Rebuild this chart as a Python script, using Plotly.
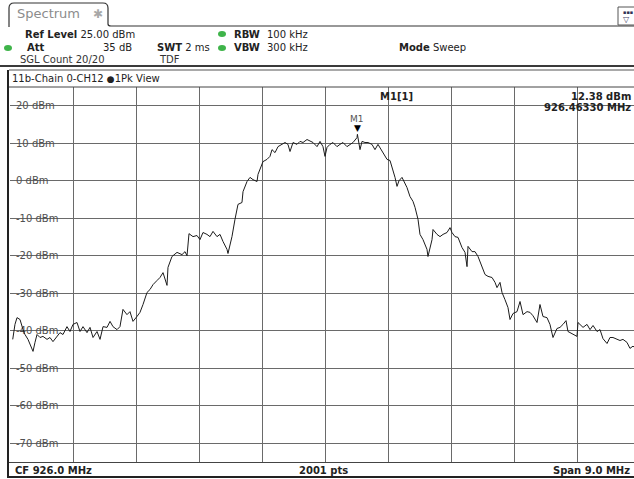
import plotly.graph_objects as go

# ---------------- data ----------------
freq_mhz = [
    921.539, 921.571, 921.600, 921.643, 921.686, 921.714, 921.757, 921.786, 921.829, 921.857,
    921.886, 921.929, 921.971, 922.029, 922.071, 922.114, 922.171, 922.214, 922.257, 922.314,
    922.357, 922.400, 922.457, 922.500, 922.543, 922.600, 922.643, 922.686, 922.743, 922.786,
    922.829, 922.886, 922.929, 922.971, 923.029, 923.071, 923.114, 923.171, 923.214, 923.257,
    923.314, 923.357, 923.400, 923.457, 923.500, 923.543, 923.600, 923.643, 923.686, 923.743,
    923.757, 923.814, 923.886, 923.957, 924.000, 924.029, 924.057, 924.114, 924.171, 924.214,
    924.257, 924.314, 924.357, 924.400, 924.457, 924.500, 924.543, 924.600, 924.614, 924.671,
    924.714, 924.757, 924.814, 924.829, 924.886, 924.929, 924.971, 925.029, 925.043, 925.100,
    925.114, 925.171, 925.214, 925.243, 925.286, 925.329, 925.386, 925.429, 925.471, 925.500,
    925.543, 925.600, 925.643, 925.686, 925.743, 925.786, 925.829, 925.886, 925.929, 925.971,
    926.000, 926.029, 926.071, 926.114, 926.171, 926.214, 926.257, 926.314, 926.357, 926.400,
    926.457, 926.463, 926.500, 926.529, 926.571, 926.614, 926.671, 926.714, 926.757, 926.814,
    926.857, 926.886, 926.929, 926.957, 927.000, 927.029, 927.057, 927.100, 927.143, 927.171,
    927.214, 927.257, 927.286, 927.329, 927.357, 927.400, 927.457, 927.471, 927.529, 927.543,
    927.600, 927.643, 927.686, 927.743, 927.786, 927.814, 927.857, 927.900, 927.957, 928.000,
    928.029, 928.043, 928.100, 928.143, 928.186, 928.243, 928.286, 928.329, 928.386, 928.429,
    928.457, 928.500, 928.529, 928.571, 928.614, 928.643, 928.686, 928.743, 928.786, 928.829,
    928.886, 928.929, 928.971, 929.029, 929.071, 929.114, 929.171, 929.214, 929.257, 929.314,
    929.357, 929.400, 929.443, 929.471, 929.543, 929.600, 929.614, 929.686, 929.743, 929.786,
    929.829, 929.886, 929.929, 929.971, 930.029, 930.071, 930.114, 930.171, 930.214, 930.257,
    930.314, 930.357, 930.400, 930.457,
]
level_dbm = [
    -42.3, -38.3, -36.5, -37.0, -39.7, -41.0, -42.3, -43.7, -45.5, -43.1,
    -41.0, -41.8, -41.5, -42.3, -41.8, -42.9, -41.5, -40.5, -41.0, -38.9,
    -40.2, -38.3, -37.8, -40.2, -38.9, -40.5, -39.1, -41.8, -40.2, -42.3,
    -38.9, -39.1, -37.5, -38.9, -39.7, -38.9, -34.3, -35.7, -34.9, -37.5,
    -36.2, -35.1, -33.0, -29.8, -29.0, -27.7, -26.6, -25.8, -24.5, -27.9,
    -23.1, -20.2, -19.1, -19.7, -18.9, -20.0, -14.1, -14.9, -14.6, -15.7,
    -13.8, -14.3, -14.9, -13.5, -14.9, -14.3, -16.2, -18.3, -19.4, -14.9,
    -10.3, -6.3, -5.8, -2.9, -0.2, 0.9, 0.3, -0.2, 1.7, 4.3,
    5.1, 5.7, 6.5, 8.3, 7.5, 9.1, 9.7, 10.2, 9.7, 7.8,
    10.2, 9.7, 10.5, 10.2, 11.0, 10.5, 10.2, 9.1, 10.5, 9.1,
    6.5, 8.9, 9.7, 10.2, 9.1, 9.7, 10.2, 9.1, 9.7, 10.2,
    11.5, 12.38, 8.3, 10.5, 10.2, 10.2, 9.7, 8.3, 9.7, 7.8,
    6.5, 5.7, 5.4, 3.8, 0.9, -1.5, 0.0, 0.9, -0.5, -1.8,
    -4.2, -5.5, -7.1, -10.3, -14.3, -15.7, -18.3, -20.2, -15.7, -13.0,
    -14.3, -14.9, -14.3, -13.8, -12.5, -13.8, -14.9, -15.1, -17.8, -19.1,
    -22.9, -17.5, -18.9, -18.9, -20.2, -22.9, -25.0, -25.5, -25.8, -27.1,
    -28.5, -27.1, -29.8, -31.7, -33.8, -37.0, -35.4, -34.9, -32.2, -35.7,
    -34.9, -35.1, -36.0, -37.8, -33.0, -36.2, -36.5, -38.3, -41.8, -39.4,
    -39.1, -38.3, -37.3, -40.2, -41.0, -41.5, -37.8, -39.1, -38.3, -39.7,
    -38.6, -40.2, -39.7, -42.1, -43.4, -41.8, -41.8, -42.3, -42.6, -42.3,
    -43.1, -44.7, -44.1, -45.0,
]
y_tick_values = [20, 10, 0, -10, -20, -30, -40, -50, -60, -70]
y_tick_labels = [f"{v} dBm" for v in y_tick_values]

center_mhz = 926.0
span_mhz = 9.0
ref_level_dbm = 25.0
range_db = 100.0
marker_freq_mhz = 926.4633
marker_level_dbm = 12.38

# ---------------- geometry ----------------
W, H = 634, 479
ML, MR, MT, MB = 10, 0, 87, 17
PW = W - ML - MR
PH = H - MT - MB
x_start = center_mhz - span_mhz / 2
div_mhz = span_mhz / 10
x_end = x_start + div_mhz * (PW / 63.0)   # screenshot is cut at the right edge

FONT = "DejaVu Sans"


def px(x):
    return (x - ML) / PW


def py(y):
    return (H - MB - y) / PH


fig = go.Figure()
fig.add_trace(go.Scatter(
    x=freq_mhz, y=level_dbm, mode="lines",
    line=dict(color="#1c1c1c", width=1),
    hoverinfo="skip", showlegend=False,
))

ann = []


def txt(x, y, s, size=10, color="#222", anchor="left"):
    ann.append(dict(xref="paper", yref="paper", x=px(x), y=py(y), text=s,
                    showarrow=False, xanchor=anchor, yanchor="middle",
                    font=dict(family=FONT, size=size, color=color)))


shapes = []


def line(x0, y0, x1, y1, color="#444", width=1):
    shapes.append(dict(type="line", xref="paper", yref="paper",
                       x0=px(x0), y0=py(y0), x1=px(x1), y1=py(y1),
                       line=dict(color=color, width=width), layer="above"))


def dot(cx, cy, rx=4, ry=3, color="#3fb44a"):
    shapes.append(dict(type="circle", xref="paper", yref="paper",
                       x0=px(cx - rx), x1=px(cx + rx), y0=py(cy + ry), y1=py(cy - ry),
                       fillcolor=color, line=dict(width=0), layer="above"))


# tab "Spectrum"
pts = [("M", 9, 27), ("L", 9, 8), ("Q", 9, 3, 14, 3), ("L", 103, 3),
       ("Q", 108, 3, 108, 8), ("L", 108, 24), ("Q", 108, 26, 111, 26), ("L", 640, 26)]
path = ""
for p in pts:
    if p[0] == "Q":
        path += f"Q{px(p[1]):.5f},{py(p[2]):.5f} {px(p[3]):.5f},{py(p[4]):.5f} "
    else:
        path += f"{p[0]}{px(p[1]):.5f},{py(p[2]):.5f} "
shapes.append(dict(type="path", xref="paper", yref="paper", path=path,
                   line=dict(color="#333", width=1.2), layer="above"))
txt(15, 14, "Spectrum", size=13, color="#8c8c8c")
txt(91, 14, "✱", size=12, color="#a8a8a8")

# icon at top right
shapes.append(dict(type="rect", xref="paper", yref="paper",
                   x0=px(618), x1=px(640), y0=py(25), y1=py(7),
                   line=dict(color="#555", width=1), fillcolor="white", layer="above"))
txt(621, 12, "▪▪▪", size=5, color="#335")
txt(621, 19, "▽", size=8, color="#446")

# settings rows
txt(23, 34, "<b>Ref Level</b> 25.00 dBm")
dot(222, 34)
txt(232, 34, "<b>RBW</b>")
txt(265, 34, "100 kHz")
dot(8, 48)
txt(25, 48, "<b>Att</b>")
txt(134, 48, "35 dB", anchor="right")
txt(155, 48, "<b>SWT</b> 2 ms")
dot(222, 48)
txt(232, 48, "<b>VBW</b>")
txt(265, 48, "300 kHz")
txt(397, 48, "<b>Mode</b> Sweep")
txt(18, 60, "SGL Count 20/20", color="#333")
txt(157, 60, "TDF", color="#333")

# separators / frame
line(0, 66, 640, 66, color="#3a3a3a", width=2)
line(9, 70, 640, 70, color="#555", width=1)
line(8, 70, 8, 478, color="#222", width=2)
txt(10, 78, "11b-Chain 0-CH12 <span style='font-size:9px'>●</span>1Pk View", color="#222")
line(9, 87, 640, 87, color="#444", width=1)
line(9, 462.5, 640, 462.5, color="#444", width=1)
line(8, 477, 640, 477, color="#222", width=2)

# bottom row
txt(13, 470, "<b>CF 926.0 MHz</b>")
txt(323, 470, "<b>2001 pts</b>", anchor="center")
txt(632, 470, "<b>Span 9.0 MHz</b>", anchor="right")

# white boxes behind the level labels (above grid, below trace)
char_w = {"0": .636, "1": .636, "2": .636, "3": .636, "4": .636, "5": .636, "6": .636,
          "7": .636, "8": .636, "9": .636, " ": .318, "-": .361, "d": .635, "B": .686, "m": .974}
for v, lab in zip(y_tick_values, y_tick_labels):
    w = sum(char_w.get(c, .6) for c in lab) * 10
    shapes.append(dict(type="rect", xref="paper", yref="y",
                       x0=0, x1=px(ML + 5 + w + 1), y0=v - 1.4, y1=v + 1.4,
                       fillcolor="white", line=dict(width=0), layer="between"))

# marker info box
shapes.append(dict(type="rect", xref="paper", yref="paper",
                   x0=px(376), x1=px(645), y0=py(115), y1=1,
                   fillcolor="white", line=dict(width=0), layer="between"))
txt(378, 96, "<b>M1[1]</b>")
txt(633, 96, f"<b>{marker_level_dbm:.2f} dBm</b>", anchor="right")
txt(633, 107, f"<b>{marker_freq_mhz:.5f} MHz</b>", anchor="right")

# marker symbol on the trace
ann.append(dict(xref="x", yref="y", x=marker_freq_mhz, y=marker_level_dbm,
                text="▼", showarrow=False, yshift=6, yanchor="middle",
                font=dict(family=FONT, size=9, color="#000")))
ann.append(dict(xref="x", yref="y", x=marker_freq_mhz, y=marker_level_dbm,
                text="M1", showarrow=False, yshift=15, yanchor="middle",
                font=dict(family=FONT, size=9, color="#555")))

fig.update_layout(
    width=W, height=H,
    margin=dict(l=ML, r=MR, t=MT, b=MB, pad=0),
    paper_bgcolor="white", plot_bgcolor="white",
    showlegend=False,
    font=dict(family=FONT, size=10, color="#222"),
    annotations=ann, shapes=shapes,
    xaxis=dict(range=[x_start, x_end], tick0=x_start, dtick=div_mhz,
               showgrid=True, gridcolor="#6a6a6a", gridwidth=1,
               showticklabels=False, ticks="", zeroline=False, showline=False,
               fixedrange=True),
    yaxis=dict(range=[ref_level_dbm - range_db, ref_level_dbm],
               tickvals=y_tick_values, ticktext=y_tick_labels,
               ticklabelposition="inside", ticklabelstandoff=3,
               tickfont=dict(family=FONT, size=10, color="#505050"),
               showgrid=True, gridcolor="#6a6a6a", gridwidth=1,
               ticks="", zeroline=False, showline=False, layer="below traces",
               fixedrange=True),
)

fig.write_html(
    "out.html",
    config={"displayModeBar": False},
    post_script="document.body.style.margin='0';document.body.style.overflow='hidden';",
)
